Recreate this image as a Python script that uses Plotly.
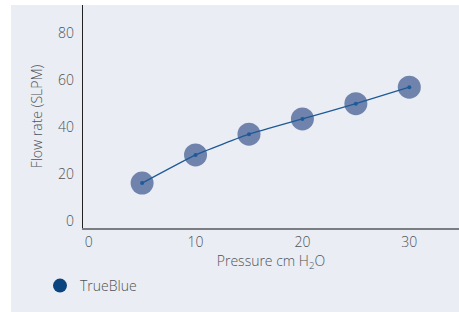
import plotly.graph_objects as go

pressure = [5, 10, 15, 20, 25, 30]
flow_rate = [16.2, 28.2, 37.0, 43.5, 50.0, 57.0]
series_name = "TrueBlue"
x_ticks = [0, 10, 20, 30]
y_ticks = [0, 20, 40, 60, 80]

W, H = 459, 312
L, R, T, B = 83, 0, 5, 84
pw, ph = W - L - R, H - T - B

font = "Open Sans"
tick_col = "#4f5358"

fig = go.Figure()
# halo markers
fig.add_trace(go.Scatter(
    x=pressure, y=flow_rate, mode="markers",
    marker=dict(size=23, color="#7083ad", line=dict(width=0)),
    showlegend=False, hoverinfo="skip"))
# line + small dots
fig.add_trace(go.Scatter(
    x=pressure, y=flow_rate, mode="lines+markers",
    line=dict(color="#1d5a96", width=1.3, shape="spline", smoothing=0.3),
    marker=dict(size=4, color="#1d5a96"),
    showlegend=False))
# legend entry
fig.add_trace(go.Scatter(
    x=[None], y=[None], mode="markers", name=series_name,
    marker=dict(size=14, color="#0b4580")))

bg_x0 = (11 - L) / pw
bg_y0 = -(H - (T + ph)) / ph
fig.add_shape(type="rect", xref="paper", yref="paper",
              x0=bg_x0, x1=1.0, y0=bg_y0, y1=1.0,
              fillcolor="#eaedf4", line=dict(width=0), layer="below")

fig.update_layout(
    width=W, height=H,
    margin=dict(l=L, r=R, t=T, b=B, pad=0, autoexpand=False),
    paper_bgcolor="white", plot_bgcolor="rgba(0,0,0,0)",
    font=dict(family=font, size=13, color=tick_col, weight=300),
    showlegend=True,
    legend=dict(x=(40 - L) / pw, y=-(286 - (T + ph)) / ph,
                xanchor="left", yanchor="middle",
                bgcolor="rgba(0,0,0,0)", font=dict(size=14, color=tick_col, weight=300),
                itemsizing="trace"),
)
fig.update_xaxes(
    range=[-0.53, 34.65], tickvals=x_ticks, ticktext=[str(v) for v in x_ticks],
    showgrid=False, zeroline=False, showline=True, linecolor="#7a7d82", linewidth=2,
    ticks="", automargin=False, tickfont=dict(size=14, color=tick_col, weight=300),
    title=dict(text="Pressure cm H<sub>2</sub>O", font=dict(size=14, color=tick_col, weight=300), standoff=4),
)
fig.update_yaxes(
    range=[-2.9, 92], tickvals=y_ticks, ticktext=[str(v) for v in y_ticks],
    showgrid=False, zeroline=False, showline=True, linecolor="#222222", linewidth=1.3,
    ticks="outside", ticklen=5, tickcolor="rgba(0,0,0,0)", automargin=False,
    tickfont=dict(size=14, color=tick_col, weight=300),
    title=dict(text="Flow rate (SLPM)", font=dict(size=14, color=tick_col, weight=300), standoff=12),
)

fig.write_html("out.html", config={"displayModeBar": False},
               post_script="document.body.style.margin='0';")
